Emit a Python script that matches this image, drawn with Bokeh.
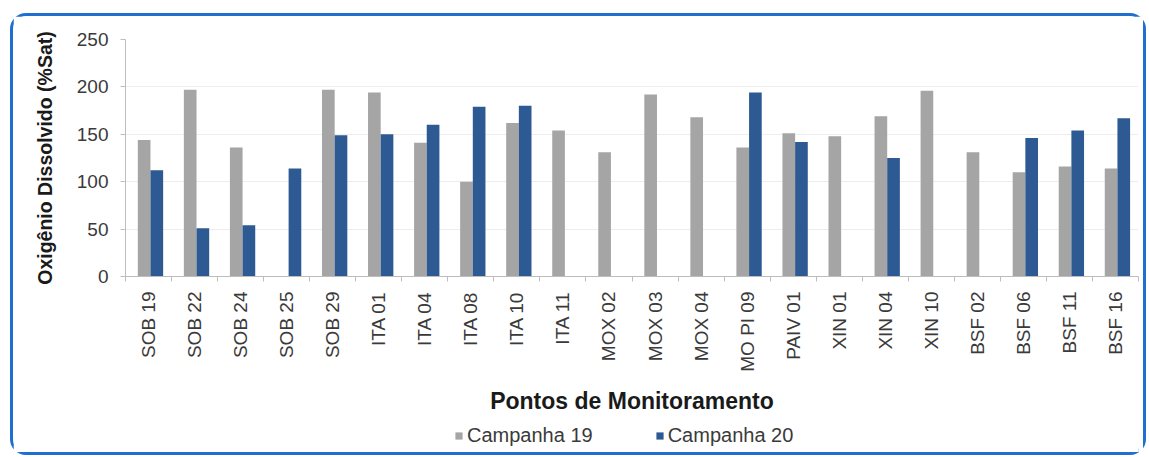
import math
from bokeh.plotting import figure
from bokeh.layouts import column
from bokeh.models import (ColumnDataSource, Range1d, FixedTicker, Legend, LegendItem)
from bokeh.transform import dodge
from bokeh.embed import file_html
from bokeh.resources import INLINE

categories = ["SOB 19", "SOB 22", "SOB 24", "SOB 25", "SOB 29", "ITA 01", "ITA 04",
              "ITA 08", "ITA 10", "ITA 11", "MOX 02", "MOX 03", "MOX 04", "MO PI 09",
              "PAIV 01", "XIN 01", "XIN 04", "XIN 10", "BSF 02", "BSF 06", "BSF 11", "BSF 16"]
campanha19 = [144, 197, 136, float("nan"), 197, 194, 141, 100, 162, 154, 131, 192, 168,
              136, 151, 148, 169, 196, 131, 110, 116, 114]
campanha20 = [112, 51, 54, 114, 149, 150, 160, 179, 180, float("nan"), float("nan"),
              float("nan"), float("nan"), 194, 142, float("nan"), 125, float("nan"),
              float("nan"), 146, 154, 167]
series_names = ["Campanha 19", "Campanha 20"]
series_colors = ["#a5a5a5", "#2e5a93"]
y_ticks = [0, 50, 100, 150, 200, 250]

pos = [i + 0.5 for i in range(len(categories))]
src = ColumnDataSource(dict(pos=pos, c19=campanha19, c20=campanha20))

FONT = "Liberation Sans"
TICK_COLOR = "#3a3a3a"
AXIS_COLOR = "#bdbdbd"

p = figure(width=1130, height=400, output_backend="svg", toolbar_location=None,
           x_range=Range1d(0, len(categories)), y_range=Range1d(0, 250),
           min_border_left=112, min_border_right=5, min_border_top=23, min_border_bottom=136)
p.outline_line_color = None
p.background_fill_color = "white"
p.border_fill_color = "white"

p.vbar(x=dodge("pos", -0.095), top="c19", width=0.275, source=src,
       fill_color=series_colors[0], line_color=None)
p.vbar(x=dodge("pos", 0.18), top="c20", width=0.275, source=src,
       fill_color=series_colors[1], line_color=None)

# x axis
xa = p.xaxis[0]
xa.ticker = FixedTicker(ticks=pos, minor_ticks=list(range(len(categories) + 1)))
xa.major_label_overrides = {pos[i]: categories[i] for i in range(len(categories))}
xa.major_label_orientation = math.pi / 2
xa.major_tick_out = 0
xa.major_tick_in = 0
xa.minor_tick_out = 5
xa.minor_tick_in = 0
xa.minor_tick_line_color = AXIS_COLOR
xa.axis_line_color = AXIS_COLOR
xa.major_label_text_font = FONT
xa.major_label_text_font_size = "19px"
xa.major_label_text_color = TICK_COLOR
xa.major_label_standoff = 10
xa.axis_label = "Pontos de Monitoramento"
xa.axis_label_text_font = FONT
xa.axis_label_text_font_size = "23px"
xa.axis_label_text_font_style = "bold"
xa.axis_label_text_color = "#1a1a1a"
xa.axis_label_standoff = 13

# y axis
ya = p.yaxis[0]
ya.ticker = FixedTicker(ticks=y_ticks)
ya.major_tick_out = 5
ya.major_tick_in = 0
ya.minor_tick_out = 0
ya.minor_tick_in = 0
ya.major_tick_line_color = AXIS_COLOR
ya.axis_line_color = AXIS_COLOR
ya.major_label_text_font = FONT
ya.major_label_text_font_size = "19px"
ya.major_label_text_color = TICK_COLOR
ya.major_label_standoff = 12
ya.axis_label = "Oxigênio Dissolvido (%Sat)"
ya.axis_label_text_font = FONT
ya.axis_label_text_font_size = "19.5px"
ya.axis_label_text_font_style = "bold"
ya.axis_label_text_color = "#1a1a1a"
ya.axis_label_standoff = 18

p.xgrid.grid_line_color = None
p.ygrid.ticker = FixedTicker(ticks=y_ticks)
p.ygrid.grid_line_color = "#ededed"

# legend strip (bars of the same data, kept below its visible range; only the legend shows)
leg = figure(width=1130, height=36, output_backend="svg", toolbar_location=None,
             x_range=Range1d(0, len(categories)), y_range=Range1d(5000, 5001), min_border=0)
leg.axis.visible = False
leg.grid.grid_line_color = None
leg.outline_line_color = None
leg.background_fill_color = "white"
leg.border_fill_color = "white"
lr = [leg.vbar(x="pos", top=col, width=0.275, source=src, fill_color=c, line_color=None)
      for col, c in zip(["c19", "c20"], series_colors)]
legend = Legend(items=[LegendItem(label=n, renderers=[r]) for n, r in zip(series_names, lr)],
                orientation="horizontal", location=(329, 5))
legend.label_text_font = FONT
legend.label_text_font_size = "20px"
legend.label_text_color = TICK_COLOR
legend.glyph_width = 9
legend.glyph_height = 9
legend.label_height = 22
legend.label_standoff = 4
legend.spacing = 62
legend.padding = 0
legend.margin = 0
legend.border_line_color = None
legend.background_fill_alpha = 0
leg.add_layout(legend)

layout = column(p, leg, spacing=0, margin=(13, 0, 0, 10),
                styles={"border": "3px solid #1f6fd1", "border-radius": "16px",
                        "background": "white"})

open("out.html", "w").write(file_html(layout, INLINE))
